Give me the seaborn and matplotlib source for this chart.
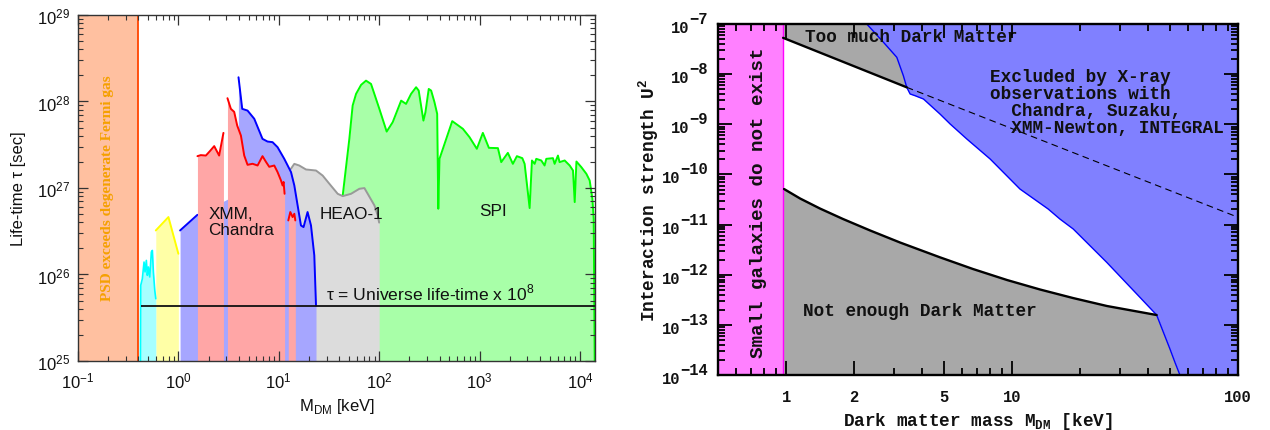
import numpy as np
import matplotlib
matplotlib.use("Agg")
import matplotlib.pyplot as plt
import seaborn as sns
from matplotlib.ticker import NullFormatter
from matplotlib.transforms import blended_transform_factory, ScaledTranslation

# ======================= LEFT PANEL DATA (log10 values) ==========
psd_limit_kev = 0.4            # phase-space-density bound
universe_tau = 4.35e25          # Universe life-time x 1e8 [s]
universe_line_start_kev = 0.42

cyan_logm = [-0.378, -0.375, -0.359, -0.342, -0.332, -0.319, -0.309, -0.299,
             -0.285, -0.269, -0.259, -0.249, -0.235, -0.225]
cyan_logtau = [25.0, 25.874, 25.95, 26.144, 26.03, 26.163, 25.99, 26.087,
               25.971, 26.26, 26.278, 26.03, 25.816, 25.72]

yellow_logm = [-0.225, -0.099, 0.0]
yellow_logtau = [26.509, 26.664, 26.24]

blue_logm = [0.017, 0.19, 0.496, 0.596, 0.599, 0.636, 0.689, 0.756, 0.838, 0.888,
             0.938, 0.988, 1.055, 1.122, 1.155, 1.188, 1.221, 1.247, 1.287, 1.321,
             1.354, 1.371]
blue_logtau = [26.509, 26.69, 26.875, 26.875, 28.28, 27.915, 27.895, 27.8, 27.568,
               27.537, 27.53, 27.472, 27.337, 27.184, 27.029, 26.798, 26.567, 26.548,
               26.722, 26.567, 26.221, 25.64]

red1_logm = [0.19, 0.223, 0.274, 0.317, 0.357, 0.406, 0.449]
red1_logtau = [27.368, 27.38, 27.375, 27.43, 27.484, 27.375, 27.637]
red2_logm = [0.489, 0.523, 0.556, 0.586, 0.623, 0.656, 0.689, 0.739, 0.789, 0.838,
             0.872, 0.905, 0.955, 0.988, 1.022, 1.038, 1.048, 1.058]
red2_logtau = [28.038, 27.915, 27.88, 27.722, 27.606, 27.375, 27.268, 27.28, 27.26,
               27.368, 27.303, 27.245, 27.26, 27.184, 27.087, 27.029, 27.07, 26.933]
red3_logm = [1.095, 1.115, 1.138, 1.155, 1.165]
red3_logtau = [26.625, 26.722, 26.664, 26.702, 26.625]

gray_logm = [1.12, 1.155, 1.204, 1.271, 1.371, 1.437, 1.504, 1.587, 1.637, 1.720,
             1.803, 1.853, 1.886, 1.953, 1.986, 2.0]
gray_logtau = [27.22, 27.279, 27.26, 27.214, 27.202, 27.144, 27.049, 26.933, 26.906,
               26.933, 26.991, 26.999, 26.933, 26.798, 26.682, 26.6]

green_logm = [1.637, 1.703, 1.736, 1.770, 1.820, 1.869, 1.919, 2.002, 2.075, 2.135,
              2.219, 2.268, 2.318, 2.368, 2.394, 2.441, 2.461, 2.494, 2.518, 2.551,
              2.578, 2.589, 2.601, 2.728, 2.834, 2.900, 2.973, 3.033, 3.093, 3.183,
              3.216, 3.282, 3.332, 3.372, 3.426, 3.449, 3.499, 3.522, 3.549, 3.565,
              3.615, 3.648, 3.665, 3.731, 3.748, 3.781, 3.797, 3.848, 3.898, 3.931,
              3.948, 3.965, 4.014, 4.064, 4.097, 4.124, 4.137, 4.147]
green_logtau = [26.913, 27.568, 27.953, 28.088, 28.192, 28.241, 28.203, 27.915, 27.652,
                27.761, 28.01, 27.972, 28.088, 28.165, 28.126, 27.779, 27.876, 28.145,
                28.126, 27.992, 27.857, 26.76, 27.337, 27.773, 27.684, 27.588, 27.453,
                27.637, 27.464, 27.461, 27.299, 27.406, 27.279, 27.368, 27.345, 27.279,
                26.768, 27.318, 27.279, 27.337, 27.318, 27.26, 27.337, 27.345, 27.279,
                27.375, 27.299, 27.318, 27.26, 27.202, 26.837, 27.306, 27.241, 27.164,
                27.087, 26.875, 26.644, 25.0]

left_xticks = [1e-1, 1e0, 1e1, 1e2, 1e3, 1e4]
left_xticklabels = [r"$\mathdefault{10^{-1}}$", r"$\mathdefault{10^{0}}$",
                    r"$\mathdefault{10^{1}}$", r"$\mathdefault{10^{2}}$",
                    r"$\mathdefault{10^{3}}$", r"$\mathdefault{10^{4}}$"]
left_yticks = [1e25, 1e26, 1e27, 1e28, 1e29]
left_yticklabels = [r"$\mathdefault{10^{25}}$", r"$\mathdefault{10^{26}}$",
                    r"$\mathdefault{10^{27}}$", r"$\mathdefault{10^{28}}$",
                    r"$\mathdefault{10^{29}}$"]

# ======================= RIGHT PANEL DATA ==============================================
dwarf_limit_kev = 0.97
upper_m = [0.97, 3.42, 100.0]
upper_U2 = [5.3e-8, 5.46e-9, 1.4e-11]
lower_logm = [-0.009, 0.062, 0.150, 0.252, 0.372, 0.504, 0.681, 0.827, 0.978, 1.124,
              1.270, 1.420, 1.640]
lower_logU2 = [-10.291, -10.480, -10.680, -10.889, -11.118, -11.357, -11.653, -11.886,
               -12.106, -12.295, -12.465, -12.624, -12.804]
xray_logm = [0.357, 0.431, 0.490, 0.519, 0.534, 0.549, 0.571, 0.608, 0.681, 0.726,
             0.800, 0.903, 1.035, 1.160, 1.212, 1.271, 1.419, 1.566, 1.640, 1.670,
             1.699, 1.721, 1.743]
xray_logU2 = [-7.0, -7.365, -7.664, -8.031, -8.263, -8.396, -8.43, -8.496, -8.795,
              -8.994, -9.294, -9.692, -10.291, -10.69, -10.89, -11.089, -11.753,
              -12.451, -12.804, -13.149, -13.482, -13.747, -14.0]

right_xticks = [1, 2, 5, 10, 100]
right_xticklabels = ["1", "2", "5", "10", "100"]
right_yexponents = [-14, -13, -12, -11, -10, -9, -8, -7]


def P(a):
    return np.power(10.0, np.asarray(a, dtype=float))


def minor_log(lo, hi):
    out = []
    for e in range(lo, hi):
        for k in range(2, 10):
            out.append(k * 10.0 ** e)
    return out


sns.set_theme(style="ticks")
plt.rcParams["font.family"] = ["Liberation Sans", "DejaVu Sans"]
plt.rcParams["axes.unicode_minus"] = True

fig = plt.figure(figsize=(12.7, 4.31), dpi=100)
ax1 = fig.add_axes([0.0614, 0.1601, 0.4071, 0.8028])
ax2 = fig.add_axes([0.5654, 0.1276, 0.4094, 0.8144])

# ---------------------------------------------------------------- left panel
ax1.set_xscale("log")
ax1.set_yscale("log")
xmax1 = P(4.15)
ax1.set_xlim(0.1, xmax1)
ax1.set_ylim(1e25, 1e29)
base = 1e25


def band(ax, lm, lt, fill, line, z, lw=1.4, line_idx=None):
    m, t = P(lm), P(lt)
    ax.fill_between(m, t, base, color=fill, lw=0, zorder=z)
    segs = [slice(None)] if line_idx is None else line_idx
    for s in segs:
        sns.lineplot(x=m[s], y=t[s], ax=ax, color=line, lw=lw, sort=False,
                     estimator=None, errorbar=None, zorder=z + 0.5)


band(ax1, green_logm, green_logtau, "#A8FFA8", "#00FF00", 1)
band(ax1, gray_logm, gray_logtau, "#DCDCDC", "#999999", 2)
band(ax1, blue_logm, blue_logtau, "#A6A6FF", "#0000FF", 3,
     line_idx=[slice(0, 2), slice(4, None)])
band(ax1, red1_logm, red1_logtau, "#FFA6A6", "#FF0000", 4.6)
band(ax1, red2_logm, red2_logtau, "#FFA6A6", "#FF0000", 4.6)
band(ax1, red3_logm, red3_logtau, "#FFA6A6", "#FF0000", 4.6)
band(ax1, yellow_logm, yellow_logtau, "#FFFFA6", "#FFFF00", 3)
band(ax1, cyan_logm, cyan_logtau, "#A6FFFF", "#00FFFF", 3, lw=1.2)

ax1.axvspan(0.1, psd_limit_kev, color="#FFC0A0", lw=0, zorder=6)
ax1.axvline(psd_limit_kev, color="#FF4500", lw=1.3, zorder=6.5)
ax1.hlines(universe_tau, universe_line_start_kev, xmax1, color="#111111",
           lw=1.3, zorder=7)

ax1.text(P(-0.708), P(27.014), "PSD exceeds degenerate Fermi gas", rotation=90,
         ha="center", va="center", color="#F5A000", fontsize=11,
         family="Liberation Serif", weight="bold", zorder=8)
ax1.text(P(0.297), P(26.61), "XMM,\nChandra", ha="left", va="center",
         fontsize=12.3, linespacing=1.1, color="#111111", zorder=8)
ax1.text(P(1.404), P(26.70), "HEAO-1", ha="left", va="center", fontsize=12.3,
         color="#111111", zorder=8)
ax1.text(P(3.0), P(26.74), "SPI", ha="left", va="center", fontsize=12.3,
         color="#111111", zorder=8)
ax1.text(P(1.47), P(25.68), r"τ = Universe life-time x 10$^{\mathdefault{8}}$",
         ha="left", va="bottom", fontsize=12.6, color="#111111", zorder=8)

ax1.set_xticks(left_xticks, left_xticklabels, fontsize=12)
ax1.set_yticks(left_yticks, left_yticklabels, fontsize=12)
ax1.set_xticks(minor_log(-1, 5), minor=True)
ax1.set_yticks(minor_log(25, 29), minor=True)
ax1.xaxis.set_minor_formatter(NullFormatter())
ax1.yaxis.set_minor_formatter(NullFormatter())
ax1.set_xlim(0.1, xmax1)
ax1.set_ylim(1e25, 1e29)
ax1.tick_params(which="both", direction="in", top=True, right=True,
                color="#333333", labelcolor="#111111")
ax1.tick_params(which="major", length=7, width=0.9)
ax1.tick_params(which="minor", length=3.5, width=0.8)
ax1.tick_params(axis="x", which="major", pad=7)
ax1.tick_params(axis="y", which="major", pad=6)
ax1.xaxis.set_zorder(15)
ax1.yaxis.set_zorder(15)
for s in ax1.spines.values():
    s.set_color("#333333")
    s.set_linewidth(1.0)
    s.set_zorder(16)
ax1.set_xlabel(r"M$_{\mathdefault{DM}}$ [keV]", fontsize=12, va="center",
               color="#111111")
ax1.set_ylabel("Life-time τ [sec]", fontsize=12, va="center", color="#111111")
ax1.xaxis.set_label_coords(0.5, -0.13)
ax1.yaxis.set_label_coords(-0.116, 0.5)

# ---------------------------------------------------------------- right panel
mono = dict(family="Liberation Mono", weight="bold")
ax2.set_xscale("log")
ax2.set_yscale("log")
ax2.set_xlim(0.5, 100)
ax2.set_ylim(1e-14, 1e-7)

lm, lu = P(lower_logm), P(lower_logU2)
xm, xu = P(xray_logm), P(xray_logU2)

ax2.axvspan(0.5, dwarf_limit_kev, color="#FF80FF", lw=0, zorder=1)
ax2.axvline(dwarf_limit_kev, color="#FF00FF", lw=1.0, zorder=1.5)
ax2.fill_between(upper_m, upper_U2, 1e-7, color="#A8A8A8", lw=0, zorder=1)
j = list(xray_logm).index(lower_logm[-1])
gx = list(lm) + list(xm[j:]) + [dwarf_limit_kev]
gy = list(lu) + list(xu[j:]) + [1e-14]
ax2.fill(gx, gy, color="#A8A8A8", lw=0, zorder=1)
ax2.fill_betweenx(xu, xm, 100, color="#8080FF", lw=0, zorder=2)
sns.lineplot(x=xm, y=xu, ax=ax2, color="#0000FF", lw=1.0, sort=False,
             estimator=None, errorbar=None, zorder=3)
sns.lineplot(x=upper_m[:2], y=upper_U2[:2], ax=ax2, color="black", lw=1.7,
             sort=False, estimator=None, errorbar=None, zorder=4)
sns.lineplot(x=upper_m[1:], y=upper_U2[1:], ax=ax2, color="black", lw=0.8,
             sort=False, estimator=None, errorbar=None, zorder=4,
             linestyle=(0, (6, 4)))
sns.lineplot(x=lm, y=lu, ax=ax2, color="black", lw=1.7, sort=False,
             estimator=None, errorbar=None, zorder=4)

ax2.text(0.754, P(-10.55), "Small galaxies do not exist", rotation=90,
         ha="center", va="center", fontsize=13.9, color="#111111", zorder=6, **mono)
ax2.text(1.214, P(-7.246), "Too much Dark Matter", ha="left", va="center",
         fontsize=12.8, color="#111111", zorder=6, **mono)
ax2.text(1.19, P(-12.718), "Not enough Dark Matter", ha="left", va="center",
         fontsize=12.8, color="#111111", zorder=6, **mono)
ax2.text(8.0, P(-8.549),
         "Excluded by X-ray\nobservations with\n  Chandra, Suzaku,\n  XMM-Newton, INTEGRAL",
         ha="left", va="center", fontsize=12.8, linespacing=1.0, color="#111111",
         zorder=6, **mono)

# y tick labels: "10" with a full-size raised exponent (as in the reference)
right_yticks = [10.0 ** e for e in right_yexponents]
ax2.set_yticks(right_yticks, [""] * len(right_yticks))
tick_fs = 11.2
char_px = 0.6 * tick_fs / 72 * fig.dpi
ytr = blended_transform_factory(ax2.transAxes, ax2.transData)
for v, e in zip(right_yticks, right_yexponents):
    es = str(e).replace("-", "\u2212")
    right_px = 10.0
    ax2.text(0, v, es, ha="right", va="baseline", fontsize=tick_fs,
             color="#111111", clip_on=False,
             transform=ytr + ScaledTranslation(-right_px / fig.dpi, 1.0 / fig.dpi,
                                               fig.dpi_scale_trans), **mono)
    ax2.text(0, v, "10", ha="right", va="baseline", fontsize=tick_fs,
             color="#111111", clip_on=False,
             transform=ytr + ScaledTranslation(-(right_px + len(es) * char_px) / fig.dpi,
                                               -8.0 / fig.dpi, fig.dpi_scale_trans),
             **mono)

ax2.set_xticks(right_xticks, right_xticklabels, fontsize=tick_fs, **mono)
xminor = [0.6, 0.7, 0.8, 0.9, 3, 4, 6, 7, 8, 9, 20, 30, 40, 50, 60, 70, 80, 90]
ax2.set_xticks(xminor, minor=True)
ax2.set_yticks(minor_log(-14, -7), minor=True)
ax2.xaxis.set_minor_formatter(NullFormatter())
ax2.yaxis.set_minor_formatter(NullFormatter())
ax2.set_xlim(0.5, 100)
ax2.set_ylim(1e-14, 1e-7)
ax2.tick_params(which="both", direction="in", top=True, right=True,
                color="black", labelcolor="#111111", width=1.3)
ax2.tick_params(which="major", length=10)
ax2.tick_params(which="minor", length=5)
ax2.tick_params(axis="x", which="major", pad=10)
ax2.xaxis.set_zorder(15)
ax2.yaxis.set_zorder(15)
for s in ax2.spines.values():
    s.set_color("black")
    s.set_linewidth(1.7)
    s.set_zorder(16)
ax2.set_xlabel(r"Dark matter mass M$_{\mathdefault{DM}}$ [keV]", fontsize=12.8,
               va="center", color="#111111", **mono)
ax2.set_ylabel(r"Interaction strength U$^{\mathdefault{2}}$", fontsize=12.8,
               va="center", color="#111111", **mono)
ax2.xaxis.set_label_coords(0.5, -0.13)
ax2.yaxis.set_label_coords(-0.133, 0.5)

fig.savefig("out.png", dpi=100)
